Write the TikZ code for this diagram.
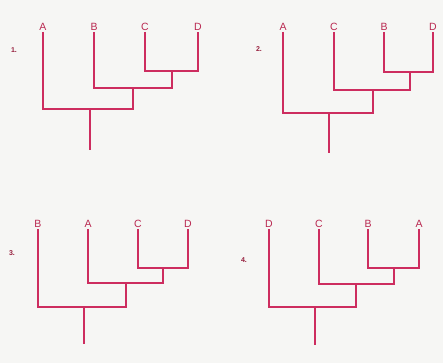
\documentclass[tikz,border=0pt]{standalone}
\usepackage{fontspec}
\setmainfont{Liberation Sans}
\begin{document}
\begin{tikzpicture}[x=1pt,y=-1pt,
  br/.style={draw=brc,line width=1.6pt,line cap=butt,line join=miter},
  lab/.style={text=labc,inner sep=1pt,anchor=south,font=\fontsize{10.5}{12}\selectfont},
  num/.style={text=numc,inner sep=0pt,font=\fontsize{7}{8}\selectfont\bfseries}]
\definecolor{brc}{RGB}{205,45,95}
\definecolor{labc}{RGB}{185,40,80}
\definecolor{numc}{RGB}{150,30,60}
\definecolor{bgc}{RGB}{246,246,244}
\fill[bgc] (0,0) rectangle (443,363);
\useasboundingbox (0,0) rectangle (443,363);
% ---- panel 1
\node[num] (n1) at (14,50) {1.};
\node[lab] (a1) at (43,32) {A};
\node[lab] (b1) at (94,32) {B};
\node[lab] (c1) at (145,32) {C};
\node[lab] (d1) at (198,32) {D};
\coordinate (x1) at (172,71);
\coordinate (y1) at (133,88);
\coordinate (z1) at (90,109);
\coordinate (e1) at (90,150);
\draw[br] (c1.south) |- (x1) -| (d1.south);
\draw[br] (b1.south) |- (y1);
\draw[br] (x1) |- (y1);
\draw[br] (a1.south) |- (z1);
\draw[br] (y1) |- (z1);
\draw[br] (z1) -- (e1);
% ---- panel 2
\node[num] (n2) at (259,49) {2.};
\node[lab] (a2) at (283,32) {A};
\node[lab] (c2) at (334,32) {C};
\node[lab] (b2) at (384,32) {B};
\node[lab] (d2) at (433,32) {D};
\coordinate (x2) at (410,72);
\coordinate (y2) at (373,90);
\coordinate (z2) at (329,113);
\coordinate (e2) at (329,153);
\draw[br] (b2.south) |- (x2) -| (d2.south);
\draw[br] (c2.south) |- (y2);
\draw[br] (x2) |- (y2);
\draw[br] (a2.south) |- (z2);
\draw[br] (y2) |- (z2);
\draw[br] (z2) -- (e2);
% ---- panel 3
\node[num] (n3) at (12,253) {3.};
\node[lab] (b3) at (38,229) {B};
\node[lab] (a3) at (88,229) {A};
\node[lab] (c3) at (138,229) {C};
\node[lab] (d3) at (188,229) {D};
\coordinate (x3) at (163,268);
\coordinate (y3) at (126,283);
\coordinate (z3) at (84,307);
\coordinate (e3) at (84,344);
\draw[br] (c3.south) |- (x3) -| (d3.south);
\draw[br] (a3.south) |- (y3);
\draw[br] (x3) |- (y3);
\draw[br] (b3.south) |- (z3);
\draw[br] (y3) |- (z3);
\draw[br] (z3) -- (e3);
% ---- panel 4
\node[num] (n4) at (244,260) {4.};
\node[lab] (d4) at (269,229) {D};
\node[lab] (c4) at (319,229) {C};
\node[lab] (b4) at (368,229) {B};
\node[lab] (a4) at (419,229) {A};
\coordinate (x4) at (394,268);
\coordinate (y4) at (356,284);
\coordinate (z4) at (315,307);
\coordinate (e4) at (315,345);
\draw[br] (b4.south) |- (x4) -| (a4.south);
\draw[br] (c4.south) |- (y4);
\draw[br] (x4) |- (y4);
\draw[br] (d4.south) |- (z4);
\draw[br] (y4) |- (z4);
\draw[br] (z4) -- (e4);
\end{tikzpicture}
\end{document}
